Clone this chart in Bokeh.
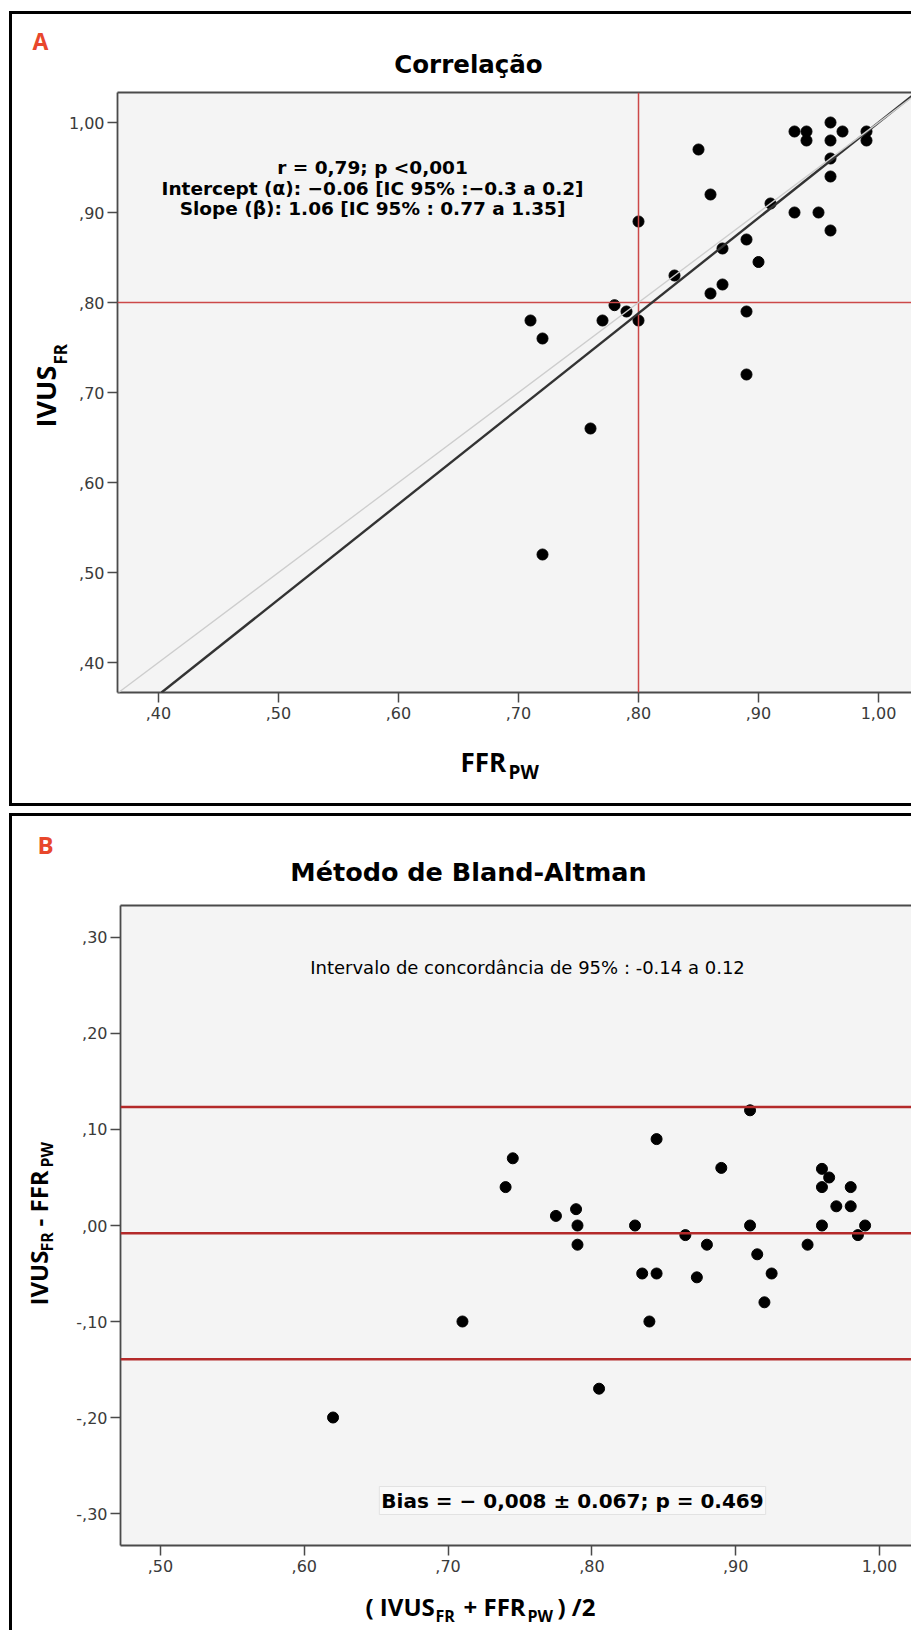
import math
from bokeh.plotting import figure
from bokeh.models import Label, Span, Slope, LinearAxis, FixedTicker, ColumnDataSource, Range1d, CustomJSTickFormatter
from bokeh.layouts import column
from bokeh.embed import file_html
from bokeh.resources import INLINE

# ---------------- data ----------------
# Panel A: correlation
ffr_pw = [0.96, 0.93, 0.94, 0.94, 0.97, 0.96, 0.99, 0.99, 0.96, 0.96, 0.85, 0.86, 0.91,
          0.93, 0.95, 0.96, 0.80, 0.89, 0.87, 0.90, 0.83, 0.87, 0.86, 0.89, 0.78, 0.79,
          0.80, 0.77, 0.71, 0.72, 0.89, 0.76, 0.72]
ivus_fr = [1.00, 0.99, 0.99, 0.98, 0.99, 0.98, 0.99, 0.98, 0.96, 0.94, 0.97, 0.92, 0.91,
           0.90, 0.90, 0.88, 0.89, 0.87, 0.86, 0.845, 0.83, 0.82, 0.81, 0.79, 0.797, 0.79,
           0.78, 0.78, 0.78, 0.76, 0.72, 0.66, 0.52]
reg_intercept = -0.06
reg_slope = 1.06
cutoff = 0.80

# Panel B: Bland-Altman
ba_mean = [0.91, 0.845, 0.745, 0.74, 0.89, 0.96, 0.965, 0.96, 0.98, 0.97, 0.98, 0.775, 0.789,
           0.79, 0.79, 0.83, 0.865, 0.88, 0.91, 0.915, 0.96, 0.99, 0.985, 0.95, 0.835, 0.845,
           0.873, 0.925, 0.92, 0.71, 0.84, 0.805, 0.62]
ba_diff = [0.12, 0.09, 0.07, 0.04, 0.06, 0.059, 0.05, 0.04, 0.04, 0.02, 0.02, 0.01, 0.017,
           0.0, -0.02, 0.0, -0.01, -0.02, 0.0, -0.03, 0.0, 0.0, -0.01, -0.02, -0.05, -0.05,
           -0.054, -0.05, -0.08, -0.10, -0.10, -0.17, -0.20]
bias = -0.008
bias_sd = 0.067
loa_upper = bias + 1.96 * bias_sd
loa_lower = bias - 1.96 * bias_sd

# ticks
a_ticks = [0.4, 0.5, 0.6, 0.7, 0.8, 0.9, 1.0]
a_tick_labels = [",40", ",50", ",60", ",70", ",80", ",90", "1,00"]
b_x_ticks = [0.5, 0.6, 0.7, 0.8, 0.9, 1.0]
b_x_tick_labels = [",50", ",60", ",70", ",80", ",90", "1,00"]
b_y_ticks = [-0.3, -0.2, -0.1, 0.0, 0.1, 0.2, 0.3]
b_y_tick_labels = ["-,30", "-,20", "-,10", ",00", ",10", ",20", ",30"]

# ---------------- styling helpers ----------------
AXIS_COLOR = "#4a4a4a"
TICK_FONT = "DejaVu Sans"
LABEL_FONT = "Open Sans"
STAT_FONT = "DejaVu Sans"
RED_LETTER = "#e8472c"
BORDER = "3px solid black"
# distance (in em) between the alphabetic baseline and the middle of the em box
MID_K = {"Open Sans": 0.388, "DejaVu Sans": 0.346}


def fmt(tvals, tlabs):
    return CustomJSTickFormatter(args=dict(tvals=tvals, tlabs=tlabs), code="""
        let best = 0;
        for (let i = 0; i < tvals.length; i++) {
            if (Math.abs(tvals[i] - tick) < Math.abs(tvals[best] - tick)) best = i;
        }
        return tlabs[best];
    """)


def style_axis(ax, tvals, tlabs, standoff):
    ax.ticker = FixedTicker(ticks=tvals)
    ax.formatter = fmt(tvals, tlabs)
    ax.axis_line_color = AXIS_COLOR
    ax.axis_line_width = 1.8
    ax.major_tick_line_color = AXIS_COLOR
    ax.major_tick_line_width = 1.5
    ax.major_tick_out = 10
    ax.major_tick_in = 0
    ax.minor_tick_line_color = None
    ax.major_label_text_font = TICK_FONT
    ax.major_label_text_font_size = "16px"
    ax.major_label_text_color = "#3a3a3a"
    ax.major_label_standoff = standoff


def make_fig(w, h, xr, yr, left, top, bottom):
    p = figure(width=w, height=h, x_range=Range1d(*xr), y_range=Range1d(*yr),
               output_backend="svg", toolbar_location=None,
               min_border_left=left, min_border_top=top, min_border_bottom=bottom,
               min_border_right=0, x_axis_location=None, y_axis_location=None)
    p.background_fill_color = "#f4f4f4"
    p.border_fill_color = "white"
    p.outline_line_color = None
    p.xgrid.visible = False
    p.ygrid.visible = False
    return p


def add_axes(p, xt, xl, yt, yl):
    xa = LinearAxis()
    style_axis(xa, xt, xl, 4)
    p.add_layout(xa, "below")
    ya = LinearAxis()
    style_axis(ya, yt, yl, 3)
    p.add_layout(ya, "left")
    ta = LinearAxis(ticker=FixedTicker(ticks=[]), major_label_text_font_size="0px",
                    major_tick_line_color=None, minor_tick_line_color=None,
                    axis_line_color=AXIS_COLOR, axis_line_width=1.8)
    p.add_layout(ta, "above")


def make_overlay(w, h, shift):
    # transparent figure laid over the plot, so that the titles are not clipped to the plot frame.
    # The column aligns its left border with the plot's, so it is widened and moved left by that amount.
    o = figure(width=w + shift, height=h, x_range=Range1d(0, w), y_range=Range1d(0, h),
               output_backend="svg", toolbar_location=None, min_border=0,
               x_axis_location=None, y_axis_location=None)
    o.title = None
    o.background_fill_alpha = 0
    o.border_fill_alpha = 0
    o.outline_line_color = None
    o.xgrid.visible = False
    o.ygrid.visible = False
    o.styles = {"position": "absolute", "top": "0px", "left": f"-{shift}px"}
    return o


def make_labeler(o, frame_left, frame_bottom):
    # positions are page pixels; anchor="baseline" means (X, Y) lies on the text's baseline
    def lab(text, X, Y, size, font=LABEL_FONT, style="bold", color="black",
            align="left", angle=0.0, anchor="baseline", **kw):
        if anchor == "baseline":
            d = MID_K[font] * size
            if angle == 0.0:
                Y = Y - d
            else:
                X = X - d
        o.add_layout(Label(x=X - frame_left, y=frame_bottom - Y, x_units="screen", y_units="screen",
                           text=text, text_font=font, text_font_size=f"{size}px",
                           text_font_style=style, text_color=color, text_align=align,
                           text_baseline="middle", angle=angle, **kw))
    return lab


# ---------------- Panel A ----------------
A_W, A_H = 899, 789
A_CX, A_CY = 12, 14
A_LEFT, A_TOP, A_BOTTOM = 105, 78, 111
a_xr = (0.36583, 0.36583 + (A_W - A_LEFT) / 1200.0)
a_yr = (0.36667, 0.36667 + (A_H - A_TOP - A_BOTTOM) / 900.0)
pa = make_fig(A_W, A_H, a_xr, a_yr, A_LEFT, A_TOP, A_BOTTOM)
add_axes(pa, a_ticks, a_tick_labels, a_ticks, a_tick_labels)

pa.add_layout(Span(location=cutoff, dimension="height", line_color="#cc4848", line_width=1.5))
pa.add_layout(Span(location=cutoff, dimension="width", line_color="#cc4848", line_width=1.5))
src_a = ColumnDataSource(dict(x=ffr_pw, y=ivus_fr))
pa.scatter("x", "y", source=src_a, size=11, color="black")
pa.add_layout(Slope(gradient=reg_slope, y_intercept=reg_intercept, line_color="#333333", line_width=2.4))
pa.add_layout(Slope(gradient=1.0, y_intercept=0.0, line_color="#cdcdcd", line_width=1.3))

oa = make_overlay(A_W, A_H, A_LEFT)
la = make_labeler(oa, A_CX, A_CY + A_H)
la("A", 32, 49, 23, color=RED_LETTER)
la("Correlação", 468, 72, 24.5, font=STAT_FONT, align="center")
la("r = 0,79; p <0,001", 372, 167, 18.5, font=STAT_FONT, align="center", anchor="center")
la("Intercept (α): −0.06 [IC 95% :−0.3 a 0.2]", 372, 188, 18.5, font=STAT_FONT, align="center", anchor="center")
la("Slope (β): 1.06 [IC 95% : 0.77 a 1.35]", 372, 208, 18.5, font=STAT_FONT, align="center", anchor="center")
# axis titles
la("FFR", 460, 772, 26)
la("PW", 508, 779, 19)
la("IVUS", 55, 427, 27, angle=math.pi / 2)
la("FR", 67, 364, 17, angle=math.pi / 2)

cont_a = column(pa, oa, margin=(11, 0, 0, 9),
                styles={"position": "relative", "border-top": BORDER,
                        "border-left": BORDER, "border-bottom": BORDER})

# ---------------- Panel B ----------------
B_W, B_H = 899, 814
B_CX, B_CY = 12, 816
B_LEFT, B_TOP, B_BOTTOM = 108, 89, 85
b_xr = (0.4722, 0.4722 + (B_W - B_LEFT) / 1438.0)
b_yr = (-0.33333, 0.33333)
pb = make_fig(B_W, B_H, b_xr, b_yr, B_LEFT, B_TOP, B_BOTTOM)
add_axes(pb, b_x_ticks, b_x_tick_labels, b_y_ticks, b_y_tick_labels)

for loc in (loa_upper, bias, loa_lower):
    pb.add_layout(Span(location=loc, dimension="width", line_color="#b42a2a", line_width=2.5))
src_b = ColumnDataSource(dict(x=ba_mean, y=ba_diff))
pb.scatter("x", "y", source=src_b, size=11, color="black")

ob = make_overlay(B_W, B_H, B_LEFT)
lb = make_labeler(ob, B_CX, B_CY + B_H)
lb("B", 37, 853, 24, color=RED_LETTER)
lb("Método de Bland-Altman", 468, 880, 25.5, font=STAT_FONT, align="center")
lb("Intervalo de concordância de 95% : -0.14 a 0.12", 527, 967, 18, font=STAT_FONT,
   style="normal", align="center", anchor="center")
lb("Bias = − 0,008 ± 0.067; p = 0.469", 572, 1500, 20, font=STAT_FONT, align="center",
   anchor="center", background_fill_color="#f9f9f9", border_line_color="#e2e2e2", padding=2)
# axis titles
lb("( IVUS", 365, 1615, 24)
lb("FR", 435, 1622, 16)
lb("+ FFR", 463, 1615, 24)
lb("PW", 527, 1622, 16)
lb(") /2", 557, 1615, 24)
lb("IVUS", 47, 1305, 24, angle=math.pi / 2)
lb("FR", 53, 1251, 16, angle=math.pi / 2)
lb("- FFR", 47, 1226, 24, angle=math.pi / 2)
lb("PW", 53, 1167, 16, angle=math.pi / 2)

cont_b = column(pb, ob, margin=(7, 0, 0, 9),
                styles={"position": "relative", "border-top": BORDER, "border-left": BORDER})

layout = column(cont_a, cont_b, spacing=0)
open("out.html", "w").write(file_html(layout, INLINE))
